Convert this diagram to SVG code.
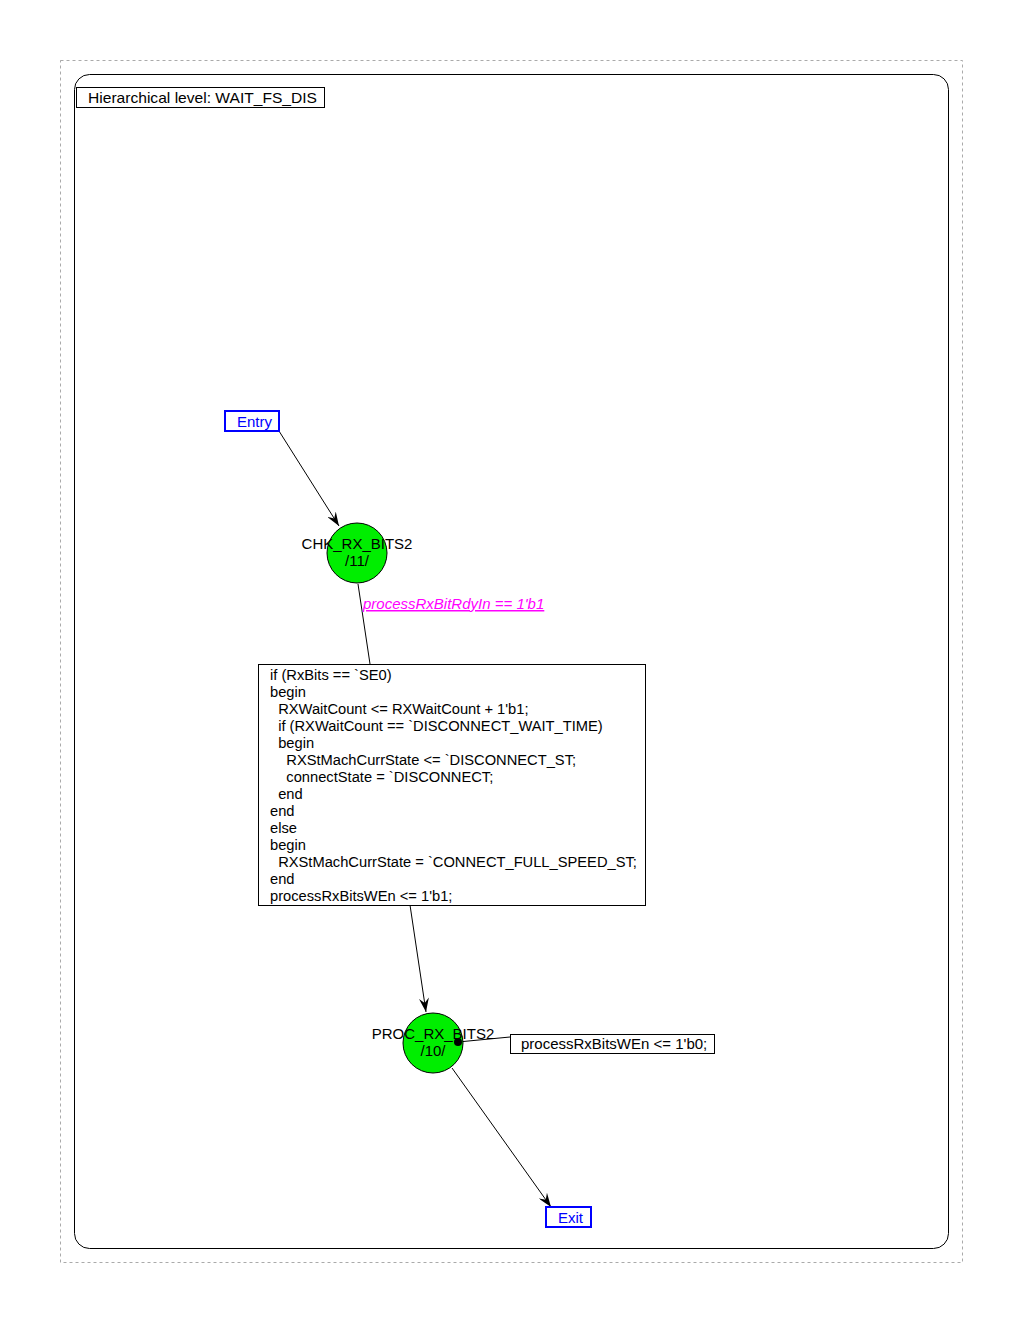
<svg xmlns="http://www.w3.org/2000/svg" width="1020" height="1320" viewBox="0 0 1020 1320">
<defs>
<style>
.t{font-family:"Liberation Sans",Arial,sans-serif;font-size:15px;fill:#000}
.a{font-family:"Liberation Sans",Arial,sans-serif;font-size:14.7px;fill:#000}
.b{font-family:"Liberation Sans",Arial,sans-serif;font-size:15px;fill:#0000ff}
.st{fill:#00ee00;stroke:#000;stroke-width:1}
.box{fill:#fff;stroke:#000;stroke-width:1}
.pin{fill:#fff;stroke:#0000ff;stroke-width:2}
.ln{stroke:#000;stroke-width:1;fill:none}
</style>
<marker id="ah" viewBox="0 0 14 10" refX="14" refY="5" markerWidth="14" markerHeight="10" markerUnits="userSpaceOnUse" orient="auto">
<path d="M0,0 L14,5 L0,10 L5,5 Z" fill="#000"/>
</marker>
</defs>
<rect width="1020" height="1320" fill="#fff"/>
<rect x="60.5" y="60.5" width="902" height="1202" fill="none" stroke="#aaa" stroke-dasharray="3,3"/>
<rect x="74.5" y="74.5" width="874" height="1174" rx="15" fill="none" stroke="#000"/>
<g id="hier">
<rect class="box" x="76.5" y="87.5" width="248" height="20"/>
<text class="t" x="88" y="103" textLength="229" lengthAdjust="spacingAndGlyphs">Hierarchical level: WAIT_FS_DIS</text>
</g>
<g id="connectors">
<line class="ln" x1="279" y1="431" x2="339" y2="526" marker-end="url(#ah)"/>
<line class="ln" x1="358" y1="584" x2="370" y2="664"/>
<line class="ln" x1="410" y1="905" x2="426" y2="1012" marker-end="url(#ah)"/>
<line class="ln" x1="458" y1="1042" x2="510" y2="1037"/>
<line class="ln" x1="452" y1="1068" x2="551" y2="1207" marker-end="url(#ah)"/>
</g>
<g id="entry">
<rect class="pin" x="225" y="411" width="54" height="20"/>
<text class="b" x="237" y="427">Entry</text>
</g>
<g id="chk">
<circle class="st" cx="357" cy="553" r="30"/>
<text class="t" x="357" y="549" text-anchor="middle">CHK_RX_BITS2</text>
<text class="t" x="357" y="566" text-anchor="middle">/11/</text>
</g>
<g id="cond">
<text x="363" y="609" style="font-family:'Liberation Sans',Arial,sans-serif;font-size:15px;font-style:italic;fill:#ff00ff;text-decoration:underline">processRxBitRdyIn == 1'b1</text>
</g>
<g id="action">
<rect class="box" x="258.5" y="664.5" width="387" height="241"/>
<text class="a" xml:space="preserve"><tspan x="270" y="680">if (RxBits == `SE0)</tspan><tspan x="270" y="697">begin</tspan><tspan x="270" y="714">  RXWaitCount &lt;= RXWaitCount + 1'b1;</tspan><tspan x="270" y="731">  if (RXWaitCount == `DISCONNECT_WAIT_TIME)</tspan><tspan x="270" y="748">  begin</tspan><tspan x="270" y="765">    RXStMachCurrState &lt;= `DISCONNECT_ST;</tspan><tspan x="270" y="782">    connectState = `DISCONNECT;</tspan><tspan x="270" y="799">  end</tspan><tspan x="270" y="816">end</tspan><tspan x="270" y="833">else</tspan><tspan x="270" y="850">begin</tspan><tspan x="270" y="867">  RXStMachCurrState = `CONNECT_FULL_SPEED_ST;</tspan><tspan x="270" y="884">end</tspan><tspan x="270" y="901">processRxBitsWEn &lt;= 1'b1;</tspan></text>
</g>
<g id="proc">
<circle class="st" cx="433" cy="1043" r="30"/>
<text class="t" x="433" y="1039" text-anchor="middle">PROC_RX_BITS2</text>
<text class="t" x="433" y="1056" text-anchor="middle">/10/</text>
<circle cx="458" cy="1042" r="4" fill="#000"/>
</g>
<g id="procaction">
<rect class="box" x="510.5" y="1034.5" width="204" height="19"/>
<text class="t" x="521" y="1049">processRxBitsWEn &lt;= 1'b0;</text>
</g>
<g id="exit">
<rect class="pin" x="546" y="1207" width="45" height="20"/>
<text class="b" x="558" y="1223">Exit</text>
</g>
</svg>
